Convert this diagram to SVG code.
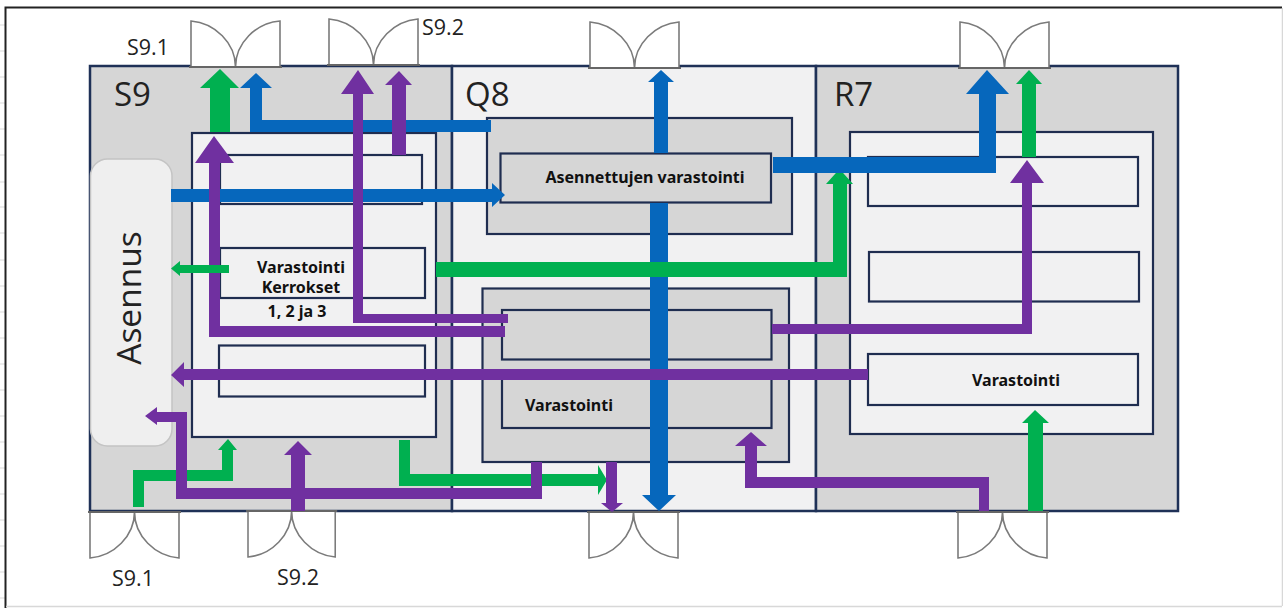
<svg xmlns="http://www.w3.org/2000/svg" width="1283" height="608" viewBox="0 0 1283 608">
<style>
.room{stroke:#1f3157;stroke-width:2.5}
.box{stroke:#1f2d50;stroke-width:2.2}
.dk{fill:#d6d6d6}.lt{fill:#f1f1f2}
.b{fill:#0667bc}.g{fill:#00b050}.p{fill:#7030a0}
.door{fill:#fff;stroke:#7b7b7b;stroke-width:1.6}
.cal{font-family:"Open Sans","Noto Sans",sans-serif;fill:#222}
.lbl{font-family:"Noto Sans","Open Sans",sans-serif;font-weight:700;font-size:16px;fill:#111;text-anchor:middle}
</style>
<defs>
<g id="door"><path class="door" d="M0 46V0C24 2 44.500 22 44.500 46C44.500 22 65 2 89 0V46Z"/><path d="M-2 46H91" stroke="#666" stroke-width="2" fill="none"/></g>
</defs>
<rect width="1283" height="608" fill="#fff"/>
<g id="sheet-frame" fill="none">
<path d="M0 25H5M0 51H5M0 77H5M0 103H5M0 129H5M0 155H5M0 182H5M0 207H5M0 233H5M0 260H5M0 286H5M0 312H5M0 338H5M0 364H5M0 390H5M0 416H5M0 442H5M0 468H5M0 494H5M0 520H5M0 546H5M0 572H5M0 598H5" stroke="#d9d9d9"/>
<path d="M5.500 608V7.500H1282" stroke="#222" stroke-width="2"/>
<path d="M1282.500 8V606M6 606.500H1282" stroke="#d8d8d8" stroke-width="1.500"/>
</g>
<g id="room-S9"><rect class="room dk" x="90" y="66" width="362" height="445"/></g>
<g id="room-Q8"><rect class="room lt" x="452" y="66" width="364" height="445"/></g>
<g id="room-R7"><rect class="room dk" x="816" y="66" width="362" height="445"/></g>
<g id="asennus"><rect x="90.500" y="159" width="81.500" height="287" rx="17" fill="#efefef" stroke="#c4c4c4" stroke-width="1.500"/></g>
<g id="S9-store">
<rect class="box lt" x="192" y="133" width="244" height="304"/>
<rect class="box lt" x="220" y="155" width="202" height="49"/>
<rect class="box lt" x="220" y="248" width="205" height="50"/>
<rect class="box lt" x="219" y="345.500" width="206" height="51"/>
</g>
<g id="Q8-top">
<rect class="box dk" x="487" y="118" width="305" height="116"/>
<rect class="box dk" x="500.500" y="153.500" width="270.500" height="49"/>
</g>
<g id="Q8-bottom">
<rect class="box dk" x="482.500" y="288.500" width="306.500" height="173.500"/>
<rect class="box dk" x="502" y="310" width="269.500" height="49.500"/>
<rect class="box dk" x="502" y="378" width="269.500" height="50"/>
</g>
<g id="R7-store">
<rect class="box lt" x="850" y="132" width="303" height="302"/>
<rect class="box lt" x="868" y="157" width="270" height="49"/>
<rect class="box lt" x="869" y="252" width="270" height="49.500"/>
<rect class="box lt" x="868" y="354" width="270" height="51"/>
</g>
<g id="doors">
<use href="#door" transform="translate(191 21)"/>
<use href="#door" transform="translate(329 19)"/>
<use href="#door" transform="translate(590 22)"/>
<use href="#door" transform="translate(960 22)"/>
<use href="#door" transform="translate(90 558) scale(1 -1)"/>
<use href="#door" transform="translate(248 557) scale(.98 -1)"/>
<use href="#door" transform="translate(589 558) scale(1 -1)"/>
<use href="#door" transform="translate(958 558) scale(1 -1)"/>
</g>
<g id="connectors">
<polygon class="g" points="210,132 230,132 230,88 239,88 220,69 200,88 210,88"/>
<polygon class="b" points="491,120 491,132 250,132 250,88 240,88 256,73 272,88 262,88 262,120"/>
<polygon class="b" points="171,189 492,189 492,183 505,195 492,207 492,202 171,202"/>
<polygon class="p" points="392,155 406,155 406,85 412,85 399,71 385,85 392,85"/>
<polygon class="p" points="508,314 508,323 353,323 353,94 341,94 358,70 374,94 363,94 363,314"/>
<polygon class="p" points="505,326 505,337 209,337 209,163 195,163 214,136 234,163 220,163 220,326"/>
<polygon class="g" points="229,265 229,273 180,273 180,276 171,268.500 180,261 180,265"/>
<polygon class="b" points="654,153 668,153 668,82 674,82 661,70 648,82 654,82"/>
<polygon class="b" points="650,203 668,203 668,495 676,495 659,511 642,495 650,495"/>
<polygon class="g" points="436,262 833,262 833,184 826,184 839.500,169 853,184 847,184 847,277 436,277"/>
<polygon class="p" points="868,369 184,369 184,362 171,375 184,387 184,380 868,380"/>
<polygon class="b" points="773,157 979,157 979,94 966,94 987,70 1009,94 996,94 996,173 773,173"/>
<polygon class="g" points="1022,157 1036,157 1036,84 1042,84 1029,70 1016,84 1022,84"/>
<polygon class="p" points="772,324 1022,324 1022,183 1010,183 1027,160 1044,183 1032,183 1032,334 772,334"/>
<polygon class="g" points="1028,511 1043,511 1043,423 1049,423 1035,410 1022,423 1028,423"/>
<polygon class="g" points="133,507 144,507 144,481 233,481 233,450 237,450 228,439 218,450 222,450 222,470 133,470"/>
<polygon class="g" points="399,440 410,440 410,474 598,474 598,465 607,480 598,495 598,486 399,486"/>
<polygon class="p" points="531,462 542,462 542,499 176,499 176,422 157,422 157,425 145,416 157,407 157,412 187,412 187,488 531,488"/>
<polygon class="p" points="291,511 305,511 305,455 312,455 298,441 284,455 291,455"/>
<polygon class="p" points="606,462 617,462 617,503 623,503 612,512 601,503 606,503"/>
<polygon class="p" points="979,511 989,511 989,477 757,477 757,446 767,446 751,432 735,446 745,446 745,488 979,488"/>
</g>
<g id="labels">
<text class="cal" x="127" y="55" font-size="21.500">S9.1</text>
<text class="cal" x="422" y="35" font-size="21.500">S9.2</text>
<text class="cal" x="112" y="586" font-size="21.500">S9.1</text>
<text class="cal" x="277" y="585" font-size="21.500">S9.2</text>
<text class="cal" x="114" y="106" font-size="33">S9</text>
<text class="cal" x="465" y="106" font-size="33">Q8</text>
<text class="cal" x="834" y="106" font-size="33">R7</text>
<text class="cal" transform="translate(141 298) rotate(-90)" font-size="33.500" text-anchor="middle">Asennus</text>
<text class="lbl" x="301" y="273">Varastointi</text>
<text class="lbl" x="301" y="293">Kerrokset</text>
<text class="lbl" x="297" y="317">1, 2 ja 3</text>
<text class="lbl" x="645" y="183">Asennettujen varastointi</text>
<text class="lbl" x="569" y="411">Varastointi</text>
<text class="lbl" x="1016" y="386">Varastointi</text>
</g>
</svg>
